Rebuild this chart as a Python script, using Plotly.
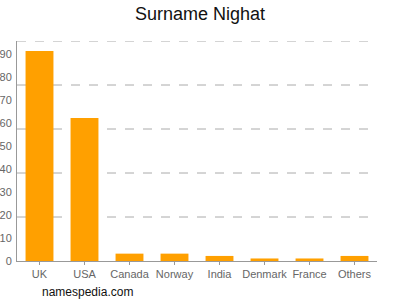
import plotly.graph_objects as go

categories = ["UK", "USA", "Canada", "Norway", "India", "Denmark", "France", "Others"]
values = [91.3, 62.2, 3.2, 3.2, 2.2, 1.1, 1.1, 2.2]
y_ticks = [0, 10, 20, 30, 40, 50, 60, 70, 80, 90]
y_max = 95.65
grid_values = [y_max * k / 5 for k in range(1, 6)]

fig = go.Figure()
fig.add_trace(go.Bar(x=categories, y=values, marker=dict(color="#FFA000", line=dict(width=0))))

shapes = []
for g in grid_values:
    shapes.append(dict(type="line", xref="paper", yref="y", x0=0, x1=1, y0=g, y1=g,
                       line=dict(color="#AAAAAA", width=1, dash="dash"), layer="below"))

fig.update_layout(
    width=400, height=300,
    margin=dict(l=17, r=23, t=41, b=39),
    paper_bgcolor="white", plot_bgcolor="white",
    title=dict(text="Surname Nighat", x=0.5, xanchor="center", y=0.953, yanchor="middle",
               font=dict(family="Liberation Sans, Arial", size=18, color="#111111")),
    bargap=0.38,
    showlegend=False,
    shapes=shapes,
    font=dict(family="Liberation Sans, Arial", size=11, color="#666666"),
    xaxis=dict(showline=True, linecolor="#999999", linewidth=1, ticks="outside", ticklen=3,
               tickcolor="#999999", showgrid=False, automargin=False,
               tickfont=dict(size=11, color="#666666")),
    yaxis=dict(range=[0, y_max], tickvals=y_ticks, showline=True, linecolor="#999999", linewidth=1,
               showgrid=False, zeroline=False, ticks="", automargin=False, ticklabelstandoff=2,
               tickfont=dict(size=11, color="#666666")),
    annotations=[dict(text="namespedia.com", xref="paper", yref="paper", x=(40 - 17) / 360, y=0,
                      xanchor="left", yanchor="middle", yshift=-31, showarrow=False,
                      font=dict(family="Liberation Sans, Arial", size=12, color="#111111"))],
)
fig.write_html("out.html")
